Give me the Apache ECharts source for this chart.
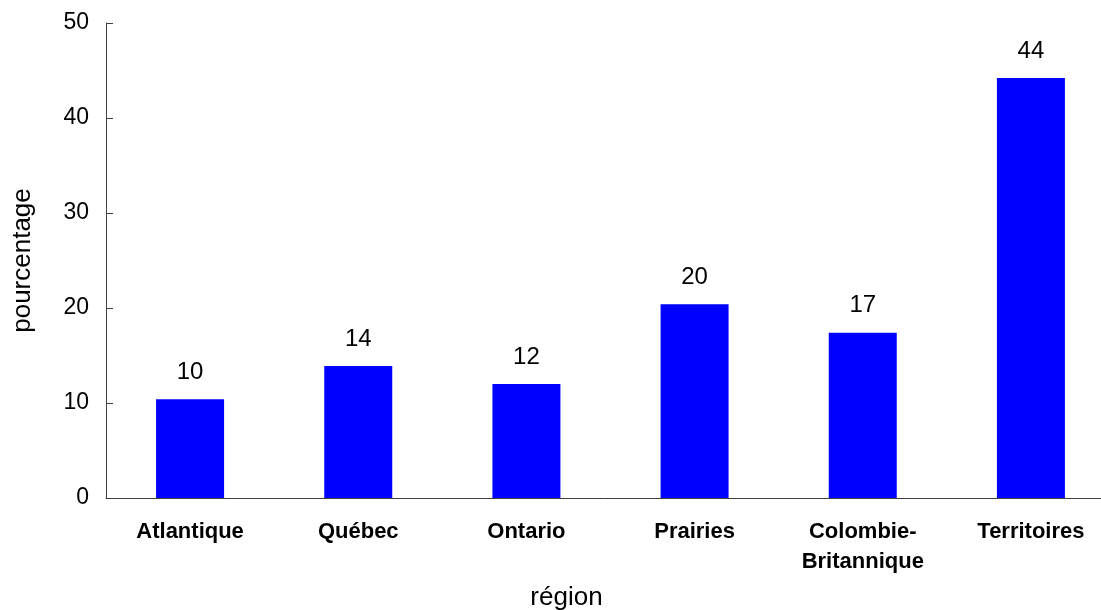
<!DOCTYPE html>
<html>
<head>
<meta charset="utf-8">
<script src="https://cdn.jsdelivr.net/npm/echarts@6/dist/echarts.min.js"></script>
<style>
  html, body { margin: 0; padding: 0; background: #ffffff; }
  #chart { width: 1101px; height: 610px; }
</style>
</head>
<body>
<div id="chart"></div>
<script>
// Share by region, in percent
const regions = ['Atlantique', 'Québec', 'Ontario', 'Prairies', 'Colombie-\nBritannique', 'Territoires'];
const percentages = [10.4, 13.9, 12.0, 20.4, 17.4, 44.2];
const valueLabels = ['10', '14', '12', '20', '17', '44'];
const yTicks = [0, 10, 20, 30, 40, 50];

const font = 'Liberation Sans, Arial, sans-serif';
const axisColor = '#404040';

const chart = echarts.init(document.getElementById('chart'));
chart.setOption({
  animation: false,
  grid: {
    left: 106, right: -14, top: 23, bottom: 112,
    containLabel: false,
    outerBoundsMode: 'none'
  },
  xAxis: {
    type: 'category',
    data: regions,
    name: 'région',
    nameLocation: 'middle',
    nameGap: 87,
    // the title sits left of the plot centre
    nameTextStyle: { fontFamily: font, fontSize: 26, color: '#000', padding: [0, 88, 0, 0] },
    axisLine: { show: true, lineStyle: { color: axisColor, width: 1 } },
    axisTick: { show: false },
    axisLabel: {
      interval: 0,
      margin: 19,
      fontFamily: font,
      fontSize: 22,
      fontWeight: 'bold',
      color: '#000',
      lineHeight: 30
    }
  },
  yAxis: {
    type: 'value',
    min: yTicks[0],
    max: yTicks[yTicks.length - 1],
    interval: 10,
    name: 'pourcentage',
    nameLocation: 'middle',
    nameGap: 70,
    nameTextStyle: { fontFamily: font, fontSize: 26, color: '#000' },
    axisLine: { show: true, lineStyle: { color: axisColor, width: 1 } },
    axisTick: { show: true, inside: true, length: 7, lineStyle: { color: axisColor } },
    splitLine: { show: false },
    axisLabel: { margin: 17, fontFamily: font, fontSize: 23, color: '#000' }
  },
  series: [{
    type: 'bar',
    data: percentages,
    barWidth: 68,
    itemStyle: { color: '#0000ff' },
    label: {
      show: true,
      position: 'top',
      distance: 15,
      fontFamily: font,
      fontSize: 24,
      color: '#000',
      formatter: (p) => valueLabels[p.dataIndex]
    }
  }]
});
</script>
</body>
</html>
